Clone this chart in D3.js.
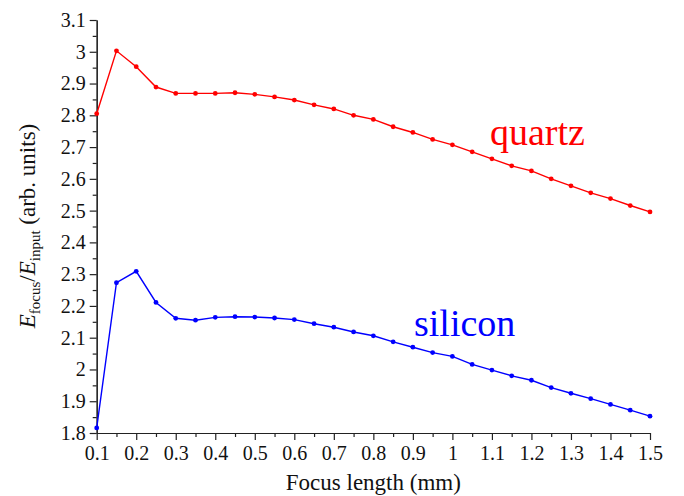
<!DOCTYPE html>
<html>
<head>
<meta charset="utf-8">
<script src="https://cdn.jsdelivr.net/npm/d3@7"></script>
<style>
  body { margin: 0; background: #fff; }
  svg { display: block; }
  .axis text { font-family: "Liberation Serif", "Times New Roman", serif; font-size: 20px; fill: #111; }
  .axis path, .axis line { stroke: #222; stroke-width: 1.2; }
</style>
</head>
<body>
<svg id="chart" width="684" height="496"></svg>
<script>
var focus_length = [0.1, 0.15, 0.2, 0.25, 0.3, 0.35, 0.4, 0.45, 0.5, 0.55, 0.6, 0.65, 0.7, 0.75, 0.8,
    0.85, 0.9, 0.95, 1.0, 1.05, 1.1, 1.15, 1.2, 1.25, 1.3, 1.35, 1.4, 1.45, 1.5];

var quartz = [2.805, 3.003, 2.953, 2.889, 2.869, 2.869, 2.869, 2.871, 2.866, 2.858, 2.848, 2.833, 2.820, 2.800, 2.787,
    2.764, 2.746, 2.724, 2.707, 2.685, 2.663, 2.641, 2.625, 2.600, 2.578, 2.556, 2.538, 2.516, 2.496];

var silicon = [1.816, 2.273, 2.309, 2.211, 2.161, 2.155, 2.164, 2.166, 2.165, 2.162, 2.157, 2.144, 2.133, 2.118, 2.106,
    2.087, 2.070, 2.053, 2.041, 2.016, 1.998, 1.980, 1.966, 1.943, 1.925, 1.908, 1.890, 1.872, 1.853];

var x_ticks = [0.1, 0.2, 0.3, 0.4, 0.5, 0.6, 0.7, 0.8, 0.9, 1.0, 1.1, 1.2, 1.3, 1.4, 1.5];
var y_ticks = [1.8, 1.9, 2.0, 2.1, 2.2, 2.3, 2.4, 2.5, 2.6, 2.7, 2.8, 2.9, 3.0, 3.1];

var svg = d3.select("#chart");

var plot_left = 96.7, plot_right = 650, plot_top = 20, plot_bottom = 433;

var xScale = d3.scaleLinear().domain([0.1, 1.5]).range([plot_left, plot_right]);
var yScale = d3.scaleLinear().domain([1.8, 3.1]).range([plot_bottom, plot_top]);

// minor ticks at half steps
var x_minor = d3.range(0, 14).map(function(i) { return 0.15 + i * 0.1; });
var y_minor = d3.range(0, 13).map(function(i) { return 1.85 + i * 0.1; });

svg.append("g")
    .attr("class", "axis")
    .attr("transform", "translate(0," + plot_bottom + ")")
    .call(d3.axisBottom(xScale).tickValues(x_minor).tickSize(4).tickFormat("").tickSizeOuter(0));

svg.append("g")
    .attr("class", "axis")
    .attr("transform", "translate(" + plot_left + ",0)")
    .call(d3.axisLeft(yScale).tickValues(y_minor).tickSize(4).tickFormat("").tickSizeOuter(0));

var xAxis = svg.append("g")
    .attr("class", "axis")
    .attr("transform", "translate(0," + plot_bottom + ")")
    .call(d3.axisBottom(xScale).tickValues(x_ticks).tickSize(7).tickSizeOuter(0)
        .tickFormat(function(d) { return d3.format("~g")(d); }));
xAxis.selectAll("text").attr("y", 12).attr("dy", "0.75em");

svg.append("g")
    .attr("class", "axis")
    .attr("transform", "translate(" + plot_left + ",0)")
    .call(d3.axisLeft(yScale).tickValues(y_ticks).tickSize(7).tickSizeOuter(0)
        .tickFormat(function(d) { return d3.format("~g")(d); }))
    .selectAll("text").attr("x", -11);

var line = d3.line()
    .x(function(d) { return xScale(d[0]); })
    .y(function(d) { return yScale(d[1]); });

function draw_series(values, color) {
    var pts = focus_length.map(function(x, i) { return [x, values[i]]; });
    svg.append("path")
        .datum(pts)
        .attr("fill", "none")
        .attr("stroke", color)
        .attr("stroke-width", 1.4)
        .attr("d", line);
    svg.append("g")
        .selectAll("circle")
        .data(pts)
        .enter().append("circle")
        .attr("cx", function(d) { return xScale(d[0]); })
        .attr("cy", function(d) { return yScale(d[1]); })
        .attr("r", 2.4)
        .attr("fill", color);
}

draw_series(quartz, "#ff0000");
draw_series(silicon, "#0000ff");

// series labels
svg.append("text")
    .attr("x", 490)
    .attr("y", 145)
    .attr("font-family", "'Liberation Serif', serif")
    .attr("font-size", "38px")
    .attr("fill", "#ff0000")
    .text("quartz");

svg.append("text")
    .attr("x", 414)
    .attr("y", 336)
    .attr("font-family", "'Liberation Serif', serif")
    .attr("font-size", "38px")
    .attr("fill", "#0000ff")
    .text("silicon");

// axis titles
svg.append("text")
    .attr("x", (plot_left + plot_right) / 2)
    .attr("y", 490)
    .attr("text-anchor", "middle")
    .attr("font-family", "'Liberation Serif', serif")
    .attr("font-size", "23px")
    .attr("fill", "#111")
    .text("Focus length (mm)");

var ylab = svg.append("text")
    .attr("transform", "translate(35,226) rotate(-90)")
    .attr("text-anchor", "middle")
    .attr("font-family", "'Liberation Serif', serif")
    .attr("font-size", "23px")
    .attr("fill", "#111");
ylab.append("tspan").attr("font-style", "italic").text("E");
ylab.append("tspan").attr("font-size", "15px").attr("dy", 5).text("focus");
ylab.append("tspan").attr("dy", -5).text("/");
ylab.append("tspan").attr("font-style", "italic").text("E");
ylab.append("tspan").attr("font-size", "15px").attr("dy", 5).text("input");
ylab.append("tspan").attr("dy", -5).text(" (arb. units)");
</script>
</body>
</html>
